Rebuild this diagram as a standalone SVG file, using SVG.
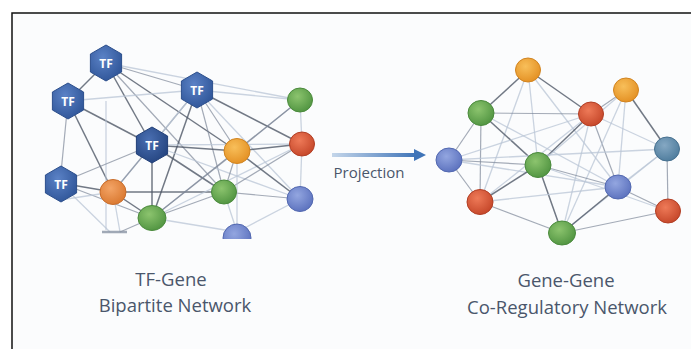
<svg xmlns="http://www.w3.org/2000/svg" width="691" height="349" viewBox="0 0 691 349">
<defs>
<style>
.e1{stroke:#4f5766;stroke-width:1.5;stroke-opacity:.8;fill:none}
.e2{stroke:#7d8798;stroke-width:1.2;stroke-opacity:.7;fill:none}
.e3{stroke:#b9c6d6;stroke-width:1.3;stroke-opacity:.75;fill:none}
.lbl{font-family:"Open Sans","Noto Sans","Liberation Sans",sans-serif;fill:#4a566b;text-anchor:middle}
.tf{font-family:"Open Sans","Liberation Sans",sans-serif;font-size:12px;font-weight:bold;fill:#ffffff;text-anchor:middle}
</style>
<radialGradient id="gTF" cx="40%" cy="35%" r="70%"><stop offset="0" stop-color="#5b82c6"/><stop offset="1" stop-color="#2f5598"/></radialGradient>
<radialGradient id="gTFd" cx="40%" cy="35%" r="70%"><stop offset="0" stop-color="#4a6fb2"/><stop offset="1" stop-color="#24447f"/></radialGradient>
<radialGradient id="gG" cx="40%" cy="35%" r="70%"><stop offset="0" stop-color="#8cc46e"/><stop offset="1" stop-color="#4f9340"/></radialGradient>
<radialGradient id="gO" cx="40%" cy="35%" r="70%"><stop offset="0" stop-color="#f8bf5a"/><stop offset="1" stop-color="#e38f22"/></radialGradient>
<radialGradient id="gO2" cx="40%" cy="35%" r="70%"><stop offset="0" stop-color="#f3a466"/><stop offset="1" stop-color="#d9772e"/></radialGradient>
<radialGradient id="gR" cx="40%" cy="35%" r="70%"><stop offset="0" stop-color="#ee7a58"/><stop offset="1" stop-color="#c44528"/></radialGradient>
<radialGradient id="gB" cx="40%" cy="35%" r="70%"><stop offset="0" stop-color="#93a6e0"/><stop offset="1" stop-color="#5a70bd"/></radialGradient>
<radialGradient id="gT" cx="40%" cy="35%" r="70%"><stop offset="0" stop-color="#85a8c3"/><stop offset="1" stop-color="#4d7b9c"/></radialGradient>
<linearGradient id="gA" gradientUnits="userSpaceOnUse" x1="332" y1="0" x2="416" y2="0"><stop offset="0" stop-color="#c4d6ea"/><stop offset="1" stop-color="#3f74b8"/></linearGradient>
<clipPath id="cut"><rect x="0" y="0" width="691" height="239"/></clipPath>
</defs>
<rect x="0" y="0" width="691" height="349" fill="#ffffff"/>
<rect x="12" y="13" width="690" height="350" fill="#fbfcfd" stroke="#111111" stroke-width="1.5"/>

<g id="connectors">
<!-- left network -->
<line class="e1" x1="106" y1="63" x2="68" y2="101"/>
<line class="e2" x1="106" y1="63" x2="197" y2="90"/>
<line class="e1" x1="106" y1="63" x2="152" y2="145"/>
<line class="e1" x1="106" y1="63" x2="237" y2="151"/>
<line class="e2" x1="106" y1="63" x2="224" y2="192"/>
<line class="e3" x1="106" y1="63" x2="300" y2="100"/>
<line class="e1" x1="68" y1="101" x2="152" y2="145"/>
<line class="e2" x1="68" y1="101" x2="60" y2="183"/>
<line class="e1" x1="68" y1="101" x2="113" y2="192"/>
<line class="e3" x1="68" y1="101" x2="197" y2="90"/>
<line class="e3" x1="106" y1="101" x2="106" y2="230"/>
<line class="e2" x1="197" y1="90" x2="152" y2="145"/>
<line class="e2" x1="197" y1="90" x2="237" y2="151"/>
<line class="e1" x1="197" y1="90" x2="302" y2="144"/>
<line class="e1" x1="197" y1="90" x2="152" y2="218"/>
<line class="e2" x1="197" y1="90" x2="224" y2="192"/>
<line class="e3" x1="197" y1="90" x2="300" y2="100"/>
<line class="e3" x1="197" y1="90" x2="113" y2="192"/>
<line class="e3" x1="197" y1="90" x2="300" y2="199"/>
<line class="e1" x1="152" y1="145" x2="237" y2="151"/>
<line class="e1" x1="152" y1="145" x2="152" y2="218"/>
<line class="e2" x1="152" y1="145" x2="60" y2="183"/>
<line class="e2" x1="152" y1="145" x2="113" y2="192"/>
<line class="e1" x1="152" y1="145" x2="224" y2="192"/>
<line class="e3" x1="152" y1="145" x2="300" y2="199"/>
<line class="e3" x1="152" y1="145" x2="302" y2="144"/>
<line class="e1" x1="60" y1="183" x2="113" y2="192"/>
<line class="e2" x1="60" y1="183" x2="152" y2="218"/>
<line class="e3" x1="60" y1="183" x2="110" y2="232"/>
<line class="e3" x1="60" y1="200" x2="113" y2="192"/>
<line class="e1" x1="113" y1="192" x2="152" y2="218"/>
<line class="e1" x1="113" y1="192" x2="224" y2="192"/>
<line class="e3" x1="113" y1="192" x2="120" y2="232"/>
<line class="e2" x1="152" y1="218" x2="300" y2="100"/>
<line class="e2" x1="152" y1="218" x2="237" y2="151"/>
<line class="e2" x1="152" y1="218" x2="224" y2="192"/>
<line class="e3" x1="152" y1="218" x2="237" y2="232"/>
<line class="e3" x1="152" y1="218" x2="302" y2="144"/>
<line class="e2" x1="152" y1="218" x2="120" y2="232"/>
<line class="e2" x1="224" y1="192" x2="237" y2="151"/>
<line class="e2" x1="224" y1="192" x2="300" y2="199"/>
<line class="e2" x1="224" y1="192" x2="302" y2="144"/>
<line class="e3" x1="224" y1="192" x2="237" y2="232"/>
<line class="e1" x1="237" y1="151" x2="302" y2="144"/>
<line class="e1" x1="237" y1="151" x2="300" y2="199"/>
<line class="e2" x1="237" y1="151" x2="300" y2="100"/>
<line class="e3" x1="300" y1="100" x2="302" y2="144"/>
<line class="e3" x1="302" y1="144" x2="300" y2="199"/>
<line class="e3" x1="300" y1="199" x2="237" y2="232"/>
<line class="e3" x1="237" y1="151" x2="237" y2="232"/>
<line x1="102" y1="232" x2="127" y2="232" stroke="#8a94a4" stroke-width="2.5" stroke-opacity=".8"/>
<!-- right network -->
<line class="e1" x1="528" y1="70" x2="481" y2="113"/>
<line class="e1" x1="528" y1="70" x2="591" y2="114"/>
<line class="e3" x1="528" y1="70" x2="538" y2="165"/>
<line class="e3" x1="528" y1="70" x2="480" y2="202"/>
<line class="e3" x1="528" y1="70" x2="618" y2="187"/>
<line class="e2" x1="481" y1="113" x2="591" y2="114"/>
<line class="e2" x1="481" y1="113" x2="449" y2="160"/>
<line class="e2" x1="481" y1="113" x2="480" y2="202"/>
<line class="e1" x1="481" y1="113" x2="538" y2="165"/>
<line class="e3" x1="481" y1="113" x2="618" y2="187"/>
<line class="e2" x1="591" y1="114" x2="626" y2="90"/>
<line class="e1" x1="591" y1="114" x2="538" y2="165"/>
<line class="e2" x1="591" y1="114" x2="618" y2="187"/>
<line class="e3" x1="591" y1="114" x2="562" y2="233"/>
<line class="e3" x1="591" y1="114" x2="449" y2="160"/>
<line class="e3" x1="591" y1="114" x2="667" y2="149"/>
<line class="e3" x1="591" y1="114" x2="480" y2="202"/>
<line class="e1" x1="626" y1="90" x2="667" y2="149"/>
<line class="e3" x1="626" y1="90" x2="618" y2="187"/>
<line class="e3" x1="626" y1="90" x2="562" y2="233"/>
<line class="e3" x1="626" y1="90" x2="538" y2="165"/>
<line class="e2" x1="449" y1="160" x2="538" y2="165"/>
<line class="e2" x1="449" y1="160" x2="480" y2="202"/>
<line class="e3" x1="449" y1="160" x2="618" y2="187"/>
<line class="e3" x1="449" y1="160" x2="667" y2="149"/>
<line class="e1" x1="538" y1="165" x2="480" y2="202"/>
<line class="e1" x1="538" y1="165" x2="562" y2="233"/>
<line class="e2" x1="538" y1="165" x2="618" y2="187"/>
<line class="e3" x1="538" y1="165" x2="668" y2="211"/>
<line class="e3" x1="667" y1="149" x2="618" y2="187"/>
<line class="e2" x1="667" y1="149" x2="668" y2="211"/>
<line class="e3" x1="667" y1="149" x2="562" y2="233"/>
<line class="e2" x1="618" y1="187" x2="668" y2="211"/>
<line class="e1" x1="618" y1="187" x2="562" y2="233"/>
<line class="e3" x1="618" y1="187" x2="480" y2="202"/>
<line class="e2" x1="480" y1="202" x2="562" y2="233"/>
<line class="e2" x1="562" y1="233" x2="668" y2="211"/>
</g>

<g id="arrow">
<rect x="332" y="153" width="84" height="4" fill="url(#gA)"/>
<polygon points="414,149 426,155 414,161" fill="#3f74b8"/>
<text class="lbl" x="369" y="178" font-size="15">Projection</text>
</g>

<g id="tf-nodes">
<g id="tf1"><polygon points="106,45 121.6,54 121.6,72 106,81 90.4,72 90.4,54" fill="url(#gTF)" stroke="#2c4f8c" stroke-width="1" stroke-linejoin="round"/><text class="tf" x="106" y="67.5">TF</text></g>
<g id="tf2"><polygon points="68,83 83.6,92 83.6,110 68,119 52.4,110 52.4,92" fill="url(#gTF)" stroke="#2c4f8c" stroke-width="1" stroke-linejoin="round"/><text class="tf" x="68" y="105.5">TF</text></g>
<g id="tf3"><polygon points="197,72 212.6,81 212.6,99 197,108 181.4,99 181.4,81" fill="url(#gTF)" stroke="#2c4f8c" stroke-width="1" stroke-linejoin="round"/><text class="tf" x="197" y="94.5">TF</text></g>
<g id="tf4"><polygon points="152,127 167.6,136 167.6,154 152,163 136.4,154 136.4,136" fill="url(#gTFd)" stroke="#213f78" stroke-width="1" stroke-linejoin="round"/><text class="tf" x="152" y="149.5">TF</text></g>
<g id="tf5"><polygon points="61,166 76.6,175 76.6,193 61,202 45.4,193 45.4,175" fill="url(#gTF)" stroke="#2c4f8c" stroke-width="1" stroke-linejoin="round"/><text class="tf" x="61" y="188.5">TF</text></g>
</g>

<g id="left-genes">
<g id="lg1"><ellipse cx="300" cy="100" rx="12.5" ry="12" fill="url(#gG)" stroke="#4a8a3c"/></g>
<g id="lr1"><ellipse cx="302" cy="144" rx="12.5" ry="12" fill="url(#gR)" stroke="#b23e24"/></g>
<g id="lo1"><ellipse cx="237" cy="151" rx="13" ry="12.5" fill="url(#gO)" stroke="#d18420"/></g>
<g id="lo2"><ellipse cx="113" cy="192" rx="13" ry="12.5" fill="url(#gO2)" stroke="#c86c2a"/></g>
<g id="lg2"><ellipse cx="224" cy="192" rx="12.5" ry="12" fill="url(#gG)" stroke="#4a8a3c"/></g>
<g id="lg3"><ellipse cx="152" cy="218" rx="14" ry="12.5" fill="url(#gG)" stroke="#4a8a3c"/></g>
<g id="lb1"><ellipse cx="300" cy="199" rx="13" ry="12.5" fill="url(#gB)" stroke="#5268b0"/></g>
<g id="lb2" clip-path="url(#cut)"><ellipse cx="237" cy="238" rx="14" ry="14" fill="url(#gB)" stroke="#5268b0"/></g>
</g>

<g id="right-genes">
<g id="ra"><ellipse cx="528" cy="70" rx="12.5" ry="12" fill="url(#gO)" stroke="#d18420"/></g>
<g id="rb"><ellipse cx="626" cy="90" rx="12.5" ry="12" fill="url(#gO)" stroke="#d18420"/></g>
<g id="rc"><ellipse cx="481" cy="113" rx="13" ry="12.5" fill="url(#gG)" stroke="#4a8a3c"/></g>
<g id="rd"><ellipse cx="591" cy="114" rx="12.5" ry="12" fill="url(#gR)" stroke="#b23e24"/></g>
<g id="re"><ellipse cx="449" cy="160" rx="13" ry="12" fill="url(#gB)" stroke="#5268b0"/></g>
<g id="rf"><ellipse cx="538" cy="165" rx="13" ry="12.5" fill="url(#gG)" stroke="#4a8a3c"/></g>
<g id="rg"><ellipse cx="667" cy="149" rx="12.5" ry="12" fill="url(#gT)" stroke="#46708f"/></g>
<g id="rh"><ellipse cx="618" cy="187" rx="13" ry="12" fill="url(#gB)" stroke="#5268b0"/></g>
<g id="ri"><ellipse cx="480" cy="202" rx="13" ry="12.5" fill="url(#gR)" stroke="#b23e24"/></g>
<g id="rj"><ellipse cx="668" cy="211" rx="12.5" ry="12" fill="url(#gR)" stroke="#b23e24"/></g>
<g id="rk"><ellipse cx="562" cy="233" rx="13.5" ry="12" fill="url(#gG)" stroke="#4a8a3c"/></g>
</g>

<g id="labels">
<text class="lbl" x="171" y="286" font-size="18.5">TF-Gene</text>
<text class="lbl" x="175" y="312" font-size="18.5">Bipartite Network</text>
<text class="lbl" x="566" y="287" font-size="18.5">Gene-Gene</text>
<text class="lbl" x="567" y="314" font-size="18.5">Co-Regulatory Network</text>
</g>
</svg>
